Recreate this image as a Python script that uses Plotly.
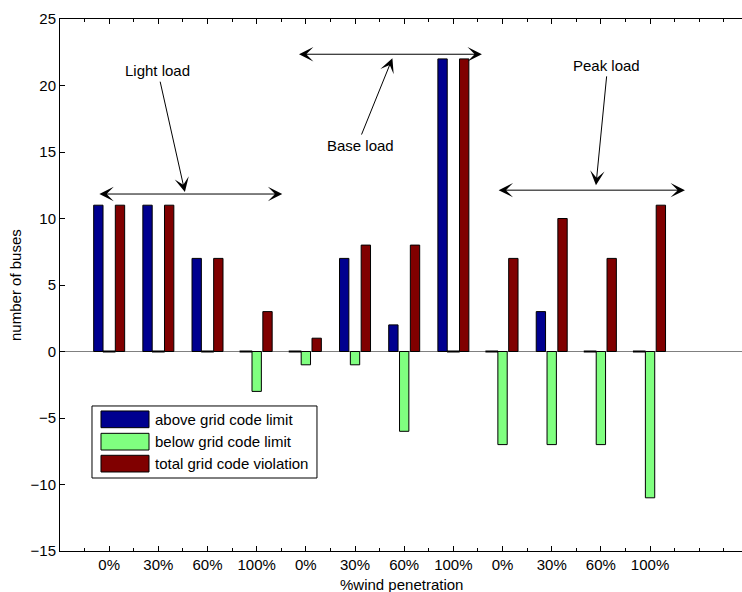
import plotly.graph_objects as go

# ---------------- data ----------------
positions = list(range(1, 13))
tick_labels = ["0%", "30%", "60%", "100%", "0%", "30%", "60%", "100%", "0%", "30%", "60%", "100%"]
series_names = ["above grid code limit", "below grid code limit", "total grid code violation"]
above = [11, 11, 7, 0, 0, 7, 2, 22, 0, 3, 0, 0]
below = [0, 0, 0, -3, -1, -1, -6, 0, -7, -7, -7, -11]
total = [11, 11, 7, 3, 1, 8, 8, 22, 7, 10, 7, 11]
colors = ["#00008F", "#80FF80", "#800000"]

# annotation labels
load_labels = ["Light load", "Base load", "Peak load"]

FONT = "Liberation Sans, Arial, Helvetica, sans-serif"
FS = 15
W, H = 742, 592
L, R, T, B = 60, 0, 19, 41
XMAX = 13.87

fig = go.Figure()
series = [above, below, total]
for name, vals, col in zip(series_names, series, colors):
    fig.add_trace(go.Bar(x=positions, y=vals, name=name, marker=dict(color=col, line=dict(color="#000000", width=1)),
                         showlegend=False))

# zero-height bars drawn as short black dashes (as in MATLAB)
slot = 0.22
for k, vals in enumerate(series):
    xs = [p + (k - 1) * slot for p, v in zip(positions, vals) if v == 0]
    ys = [0 for v in vals if v == 0]
    if xs:
        fig.add_trace(go.Scatter(x=xs, y=ys, mode="markers", showlegend=False, hoverinfo="skip",
                                 marker=dict(symbol="line-ew-open", size=9, color="#000000",
                                             line=dict(color="#000000", width=2))))

# ---------------- annotations ----------------
ann = []
# text labels
text_pos = [(1.99, 21.1), (6.12, 15.47), (11.12, 21.5)]
for lab, (tx, ty) in zip(load_labels, text_pos):
    ann.append(dict(x=tx, y=ty, xref="x", yref="y", text=lab, showarrow=False,
                    font=dict(family=FONT, size=FS, color="#000000")))
# pointer arrows (tail -> tip)
pointers = [((2.03, 20.4), (2.54, 12.0)), ((6.12, 16.2), (6.76, 22.05)), ((11.12, 20.8), (10.9, 12.5))]
for (ax_, ay_), (x_, y_) in pointers:
    ann.append(dict(x=x_, y=y_, ax=ax_, ay=ay_, xref="x", yref="y", axref="x", ayref="y", text="",
                    showarrow=True, arrowhead=3, arrowsize=2.4, arrowwidth=1, arrowcolor="#000000", standoff=0))
# double-headed span arrows
spans = [(0.77, 4.52, 11.84), (4.83, 8.58, 22.35), (8.89, 12.71, 12.13)]
for x0, x1, yy in spans:
    ann.append(dict(x=x1, y=yy, ax=x0, ay=yy, xref="x", yref="y", axref="x", ayref="y", text="",
                    showarrow=True, arrowhead=3, startarrowhead=3, arrowside="end+start",
                    arrowsize=2.4, startarrowsize=2.4, arrowwidth=1, arrowcolor="#000000",
                    standoff=0, startstandoff=0))

# axis titles
ann.append(dict(x=0.5, y=-0.0639, xref="paper", yref="paper", text="%wind penetration", showarrow=False,
                xanchor="center", yanchor="middle", font=dict(family=FONT, size=FS, color="#000000")))
ann.append(dict(x=-0.066, y=0.5, xref="paper", yref="paper", text="number of buses", showarrow=False,
                textangle=-90, xanchor="center", yanchor="middle", font=dict(family=FONT, size=FS, color="#000000")))

# ---------------- manual legend ----------------
shapes = []
shapes.append(dict(type="rect", xref="paper", yref="paper", x0=0.0469, x1=0.3768, y0=0.1372, y1=0.2726,
                   line=dict(color="#000000", width=1), fillcolor="#FFFFFF", layer="above"))
rows = [(0.2318, 0.2632, 0.2474), (0.1898, 0.2212, 0.2055), (0.1485, 0.1799, 0.1637)]
for name, col, (y0, y1, yc) in zip(series_names, colors, rows):
    shapes.append(dict(type="rect", xref="paper", yref="paper", x0=0.0601, x1=0.1305, y0=y0, y1=y1,
                       line=dict(color="#000000", width=1), fillcolor=col, layer="above"))
    ann.append(dict(x=0.1364, y=yc, xref="paper", yref="paper", text=name, showarrow=False,
                    xanchor="left", yanchor="middle", font=dict(family=FONT, size=FS, color="#000000")))

fig.update_layout(
    width=W, height=H,
    margin=dict(l=L, r=R, t=T, b=B, pad=0),
    paper_bgcolor="#FFFFFF", plot_bgcolor="#FFFFFF",
    barmode="group", bargap=0.34, bargroupgap=0.136,
    font=dict(family=FONT, size=FS, color="#000000"),
    annotations=ann, shapes=shapes,
    showlegend=False,
    xaxis=dict(range=[0, XMAX], tickmode="array", tickvals=positions, ticktext=tick_labels,
               ticks="inside", ticklen=5, tickcolor="#000000", showline=True, linecolor="#000000",
               linewidth=1, mirror="ticks", showgrid=False, zeroline=False,
               tickfont=dict(family=FONT, size=FS, color="#000000"),
               minor=dict(tickvals=[0.5 + i * 0.5 for i in range(28) if (0.5 + i * 0.5) not in positions],
                          ticks="inside", ticklen=3, tickcolor="#000000")),
    yaxis=dict(range=[-15, 25], tickmode="linear", tick0=-15, dtick=5,
               ticks="inside", ticklen=5, tickcolor="#000000", showline=True, linecolor="#000000",
               linewidth=1, mirror=False, showgrid=False,
               zeroline=True, zerolinecolor="#808080", zerolinewidth=1,
               tickfont=dict(family=FONT, size=FS, color="#000000")),
)

fig.write_html("out.html")
